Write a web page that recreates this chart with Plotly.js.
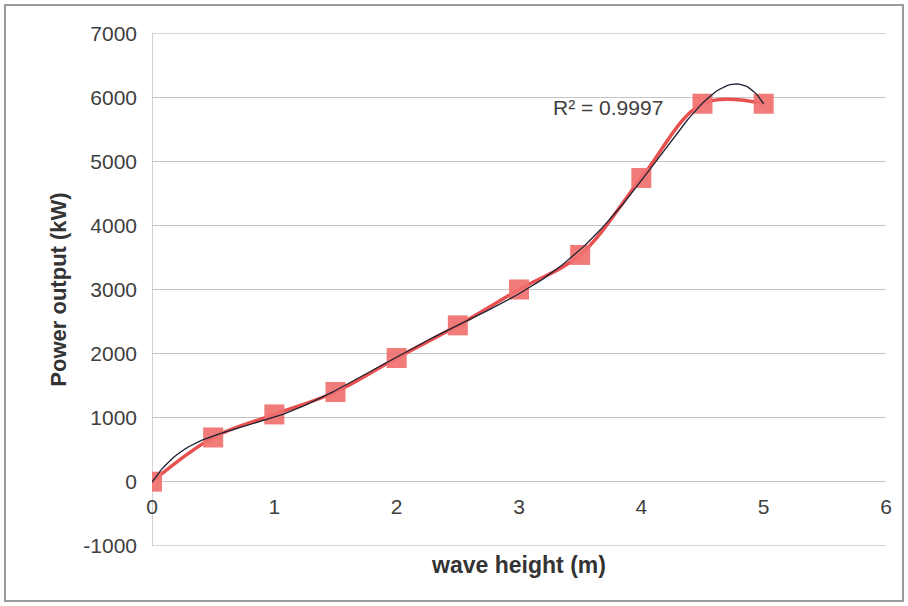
<!DOCTYPE html>
<html>
<head>
<meta charset="utf-8">
<script src="https://cdn.plot.ly/plotly-3.0.1.min.js"></script>
<style>html,body{margin:0;padding:0;background:#fff;}#chart{width:908px;height:606px;}</style>
</head>
<body>
<div id="chart"></div>
<script>
// ---- data ----
const waveHeight = [0, 0.5, 1, 1.5, 2, 2.5, 3, 3.5, 4, 4.5, 5];
const powerOutput = [0, 690, 1050, 1400, 1930, 2440, 3000, 3540, 4740, 5900, 5900];
const xTickVals = [0, 1, 2, 3, 4, 5, 6];
const yTickVals = [-1000, 0, 1000, 2000, 3000, 4000, 5000, 6000, 7000];
const rSquaredLabel = "R² = 0.9997";
const xTitle = "wave height (m)";
const yTitle = "Power output (kW)";
const trendOrder = 6;

// ---- polynomial least-squares trendline (as Excel does) ----
function polyFit(xs, ys, order) {
  const n = order + 1;
  const A = [];
  for (let i = 0; i < n; i++) {
    A.push(new Array(n + 1).fill(0));
  }
  for (let k = 0; k < xs.length; k++) {
    for (let i = 0; i < n; i++) {
      for (let j = 0; j < n; j++) A[i][j] += Math.pow(xs[k], i + j);
      A[i][n] += ys[k] * Math.pow(xs[k], i);
    }
  }
  for (let c = 0; c < n; c++) {
    let p = c;
    for (let r = c + 1; r < n; r++) if (Math.abs(A[r][c]) > Math.abs(A[p][c])) p = r;
    [A[c], A[p]] = [A[p], A[c]];
    for (let r = 0; r < n; r++) {
      if (r === c) continue;
      const f = A[r][c] / A[c][c];
      for (let j = c; j <= n; j++) A[r][j] -= f * A[c][j];
    }
  }
  return A.map((row, i) => row[n] / row[i]);
}
const coef = polyFit(waveHeight, powerOutput, trendOrder);
const evalPoly = x => coef.reduce((s, c, i) => s + c * Math.pow(x, i), 0);
const xMin = Math.min(...waveHeight), xMax = Math.max(...waveHeight);
const trendX = [], trendY = [];
for (let i = 0; i <= 200; i++) {
  const x = xMin + (xMax - xMin) * i / 200;
  trendX.push(x);
  trendY.push(evalPoly(x));
}

const fontFam = '"Liberation Sans", Arial, sans-serif';
const W = 908, H = 606;
const mL = 152, mR = 22, mT = 33, mB = 60;
const pw = W - mL - mR, ph = H - mT - mB;
const px = p => (p - mL) / pw;
const py = p => (H - mB - p) / ph;
const yLo = -1004, yHi = 7004;
const gridColor = '#C4C4C4';

const traces = [
  {
    x: waveHeight, y: powerOutput,
    type: 'scatter', mode: 'lines+markers',
    line: {color: '#E8514F', width: 3.5, shape: 'spline', smoothing: 1},
    marker: {symbol: 'square', size: 20, color: 'rgba(240,112,110,0.92)'},
    hoverinfo: 'skip', showlegend: false
  },
  {
    x: trendX, y: trendY,
    type: 'scatter', mode: 'lines',
    line: {color: '#1E2233', width: 1.3},
    hoverinfo: 'skip', showlegend: false
  }
];

const edgeGrid = [yTickVals[0], yTickVals[yTickVals.length - 1]].map(v => ({
  type: 'line', xref: 'x', yref: 'y', x0: 0, x1: 6, y0: v, y1: v,
  line: {color: gridColor, width: 1}, layer: 'below'
}));

const layout = {
  width: W, height: H,
  margin: {l: mL, r: mR, t: mT, b: mB},
  paper_bgcolor: '#ffffff', plot_bgcolor: '#ffffff',
  font: {family: fontFam, size: 21, color: '#404040'},
  showlegend: false,
  xaxis: {
    range: [0, 6], tickvals: xTickVals, ticktext: xTickVals.map(String),
    showgrid: false, zeroline: false,
    showline: false, ticks: '',
    anchor: 'free', position: (0 - yLo) / (yHi - yLo),
    ticklabelstandoff: 10,
    tickfont: {family: fontFam, size: 21, color: '#404040'},
    title: {text: xTitle, standoff: 40, font: {family: fontFam, size: 23, color: '#333333', weight: 'bold'}},
    automargin: false
  },
  yaxis: {
    range: [yLo, yHi], tickvals: yTickVals, ticktext: yTickVals.map(String),
    showgrid: true, gridcolor: gridColor, gridwidth: 1,
    zeroline: false, showline: false,
    ticks: '', ticklabelstandoff: 14,
    tickfont: {family: fontFam, size: 21, color: '#404040'},
    title: {text: yTitle, standoff: 10, font: {family: fontFam, size: 22, color: '#333333', weight: 'bold'}},
    automargin: false
  },
  shapes: [
    {type: 'rect', xref: 'paper', yref: 'paper',
     x0: px(5), x1: px(903), y0: py(601), y1: py(5),
     line: {color: '#9A9A9A', width: 2}, fillcolor: 'rgba(0,0,0,0)', layer: 'below'},
    ...edgeGrid,
    {type: 'line', xref: 'x', yref: 'y', x0: 0, x1: 0, y0: -1000, y1: 7000,
     line: {color: '#A6A6A6', width: 1}, layer: 'below'}
  ],
  annotations: [
    {x: 3.73, y: 5840, xref: 'x', yref: 'y', text: rSquaredLabel, showarrow: false,
     font: {family: fontFam, size: 21, color: '#404040'}}
  ]
};

Plotly.newPlot('chart', traces, layout, {staticPlot: true, displayModeBar: false});
</script>
</body>
</html>
